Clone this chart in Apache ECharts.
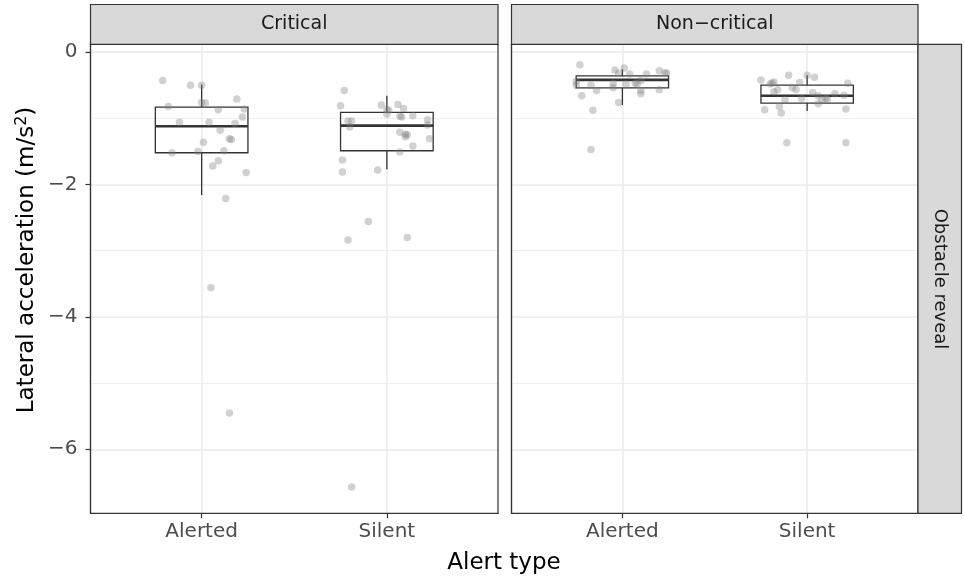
<!DOCTYPE html>
<html>
<head>
<meta charset="utf-8">
<script src="https://cdn.jsdelivr.net/npm/echarts@6/dist/echarts.min.js"></script>
<style>
html,body{margin:0;padding:0;background:#fff;}
#c{width:964px;height:577px;}
</style>
</head>
<body>
<div id="c"></div>
<script>
// ---- data ----
const alertTypes = ['Alerted', 'Silent'];
const criticality = ['Critical', 'Non\u2212critical'];
const rowLabel = 'Obstacle reveal';
const yTicks = [-6, -4, -2, 0];
const yMinor = [-5, -3, -1];

// box stats: [lowWhisker, Q1, median, Q3, highWhisker]
const boxCritAlerted = [-2.16, -1.52, -1.12, -0.83, -0.49];
const boxCritSilent = [-1.77, -1.49, -1.11, -0.91, -0.66];
const boxNonAlerted = [-0.80, -0.54, -0.42, -0.36, -0.26];
const boxNonSilent = [-0.89, -0.77, -0.66, -0.50, -0.35];

// jittered points: horizontal jitter (category units) and values
const critAlertedJit = [-0.21,-0.06,0.00,0.19,0.00,0.02,-0.18,0.09,0.23,0.22,-0.12,0.04,0.18,0.10,0.15,0.16,0.01,-0.16,-0.02,0.12,0.09,0.06,0.24,0.13,0.05,0.15];
const critAlertedVal = [-0.43,-0.50,-0.50,-0.71,-0.76,-0.77,-0.82,-0.87,-0.86,-0.98,-1.06,-1.06,-1.08,-1.18,-1.31,-1.32,-1.36,-1.52,-1.50,-1.49,-1.64,-1.72,-1.82,-2.21,-3.56,-5.45];

const critSilentJit = [-0.23,-0.25,-0.03,0.06,0.09,0.00,0.01,0.00,0.07,0.08,0.14,-0.21,-0.19,-0.20,0.22,0.22,0.07,0.10,0.11,0.10,0.23,0.14,0.07,-0.24,-0.24,-0.05,-0.10,-0.21,0.11,-0.19];
const critSilentVal = [-0.58,-0.81,-0.80,-0.79,-0.85,-0.87,-0.88,-0.94,-0.97,-0.98,-0.96,-1.04,-1.04,-1.13,-1.02,-1.10,-1.21,-1.24,-1.25,-1.28,-1.31,-1.42,-1.51,-1.63,-1.81,-1.78,-2.56,-2.84,-2.80,-6.57];

const nonAlertedJit = [-0.23,-0.04,0.01,-0.02,0.04,0.13,0.20,0.23,0.24,-0.25,-0.25,-0.17,-0.14,-0.22,-0.05,-0.05,0.02,0.07,0.08,0.10,0.10,0.10,0.20,-0.02,-0.16,-0.17];
const nonAlertedVal = [-0.19,-0.27,-0.24,-0.32,-0.33,-0.33,-0.28,-0.31,-0.32,-0.44,-0.50,-0.50,-0.58,-0.66,-0.47,-0.54,-0.48,-0.47,-0.48,-0.43,-0.58,-0.63,-0.57,-0.76,-0.88,-1.47];

const nonSilentJit = [-0.25,-0.19,-0.20,-0.18,-0.10,0.00,0.04,-0.04,-0.08,-0.06,-0.16,-0.18,0.22,0.03,0.06,0.10,0.11,0.08,0.15,0.20,-0.12,-0.03,-0.15,-0.23,-0.14,0.06,0.21,-0.11,0.21];
const nonSilentVal = [-0.42,-0.47,-0.48,-0.45,-0.35,-0.35,-0.38,-0.46,-0.54,-0.57,-0.57,-0.60,-0.47,-0.61,-0.66,-0.70,-0.71,-0.72,-0.63,-0.65,-0.72,-0.70,-0.82,-0.87,-0.92,-0.78,-0.86,-1.37,-1.37];

// ---- chart ----
const FONT = '"DejaVu Sans", "Liberation Sans", Arial, sans-serif';
const chart = echarts.init(document.getElementById('c'), null, {renderer: 'canvas'});

const panels = [
  {left: 90.5, width: 407.5, boxes: [boxCritAlerted, boxCritSilent],
   pts: [[critAlertedJit, critAlertedVal], [critSilentJit, critSilentVal]]},
  {left: 511.5, width: 406.5, boxes: [boxNonAlerted, boxNonSilent],
   pts: [[nonAlertedJit, nonAlertedVal], [nonSilentJit, nonSilentVal]]}
];
const TOP = 44.3, HEIGHT = 469;

const grids = [], xAxes = [], yAxes = [], series = [];
panels.forEach((p, i) => {
  grids.push({left: p.left, top: TOP, width: p.width, height: HEIGHT,
    show: true, borderColor: '#333333', borderWidth: 1.2, backgroundColor: 'transparent', z: 10});
  xAxes.push({
    type: 'value', gridIndex: i, min: 0.4, max: 2.6, position: 'bottom',
    axisLine: {show: true, onZero: false, lineStyle: {color: '#333333', width: 1.2}},
    axisTick: {show: true, length: 5, lineStyle: {color: '#333333', width: 1.2}, customValues: [1, 2]},
    axisLabel: {show: true, customValues: [1, 2], margin: 8, color: '#4d4d4d', fontSize: 20, fontFamily: FONT,
      formatter: v => alertTypes[Math.round(v) - 1] || ''},
    splitLine: {show: true, lineStyle: {color: '#ebebeb', width: 1.5}}
  });
  yAxes.push({
    type: 'value', gridIndex: i, min: -6.967, max: 0.118, position: 'left',
    axisLine: {show: true, onZero: false, lineStyle: {color: '#333333', width: 1.2}},
    axisTick: {show: i === 0, length: 5, lineStyle: {color: '#333333', width: 1.2}, customValues: yTicks},
    axisLabel: {show: i === 0, customValues: yTicks, margin: 13, color: '#4d4d4d', fontSize: 20, fontFamily: FONT,
      formatter: v => (v < 0 ? '\u2212' + Math.abs(v) : String(v))},
    splitLine: {show: true, lineStyle: {color: '#ebebeb', width: 1.5}}
  });
  // minor grid lines + boxes
  series.push({
    type: 'custom', xAxisIndex: i, yAxisIndex: i, z: 2, silent: true,
    data: p.boxes.map((b, k) => [k + 1].concat(b)),
    renderItem: function (params, api) {
      const x = api.value(0);
      const lo = api.coord([x, api.value(1)]);
      const q1 = api.coord([x, api.value(2)]);
      const med = api.coord([x, api.value(3)]);
      const q3 = api.coord([x, api.value(4)]);
      const hi = api.coord([x, api.value(5)]);
      const l = api.coord([x - 0.25, 0])[0];
      const r = api.coord([x + 0.25, 0])[0];
      const st = {stroke: '#333333', lineWidth: 1.3, fill: null};
      return {type: 'group', children: [
        {type: 'line', shape: {x1: lo[0], y1: lo[1], x2: q1[0], y2: q1[1]}, style: st},
        {type: 'line', shape: {x1: q3[0], y1: q3[1], x2: hi[0], y2: hi[1]}, style: st},
        {type: 'rect', shape: {x: l, y: q3[1], width: r - l, height: q1[1] - q3[1]}, style: st},
        {type: 'line', shape: {x1: l, y1: med[1], x2: r, y2: med[1]}, style: {stroke: '#333333', lineWidth: 2.6}}
      ]};
    },
    markLine: {
      silent: true, symbol: 'none', label: {show: false}, z: 1,
      lineStyle: {color: '#ebebeb', width: 0.8, type: 'solid'},
      data: yMinor.map(v => ({yAxis: v}))
    }
  });
  p.pts.forEach((pp, k) => {
    series.push({
      type: 'scatter', xAxisIndex: i, yAxisIndex: i, z: 5, silent: true,
      symbolSize: 7.5,
      itemStyle: {color: 'rgba(127,127,127,0.45)'},
      data: pp[0].map((j, n) => [k + 1 + j, pp[1][n]])
    });
  });
});

const stripStyle = {fill: '#d9d9d9', stroke: '#333333', lineWidth: 1.2};
const option = {
  backgroundColor: '#ffffff',
  animation: false,
  textStyle: {fontFamily: FONT},
  grid: grids, xAxis: xAxes, yAxis: yAxes, series: series,
  graphic: [
    {type: 'rect', shape: {x: 90.5, y: 4.5, width: 407.5, height: 39.8}, style: stripStyle, z: 20},
    {type: 'rect', shape: {x: 511.5, y: 4.5, width: 406.5, height: 39.8}, style: stripStyle, z: 20},
    {type: 'rect', shape: {x: 918, y: 44.3, width: 43.5, height: 469}, style: stripStyle, z: 20},
    {type: 'text', x: 294.25, y: 24.4, z: 21, style: {text: criticality[0], fill: '#1a1a1a', font: '19px ' + FONT, align: 'center', verticalAlign: 'middle'}},
    {type: 'text', x: 714.75, y: 24.4, z: 21, style: {text: criticality[1], fill: '#1a1a1a', font: '19px ' + FONT, align: 'center', verticalAlign: 'middle'}},
    {type: 'text', x: 939.75, y: 279, rotation: -Math.PI / 2, z: 21, style: {text: rowLabel, fill: '#1a1a1a', font: '18px ' + FONT, align: 'center', verticalAlign: 'middle'}},
    {type: 'text', x: 504, y: 563, z: 21, style: {text: 'Alert type', fill: '#000000', font: '23px ' + FONT, align: 'center', verticalAlign: 'middle'}},
    {type: 'text', x: 27, y: 260, rotation: Math.PI / 2, z: 21,
      style: {text: '{a|Lateral acceleration (m/s}{b|2}{a|)}', align: 'center', verticalAlign: 'middle',
        rich: {a: {fontSize: 23, fontFamily: FONT, fill: '#000000'},
               b: {fontSize: 16, fontFamily: FONT, fill: '#000000', padding: [0, 0, 11, 0]}}}}
  ]
};
chart.setOption(option);
</script>
</body>
</html>
